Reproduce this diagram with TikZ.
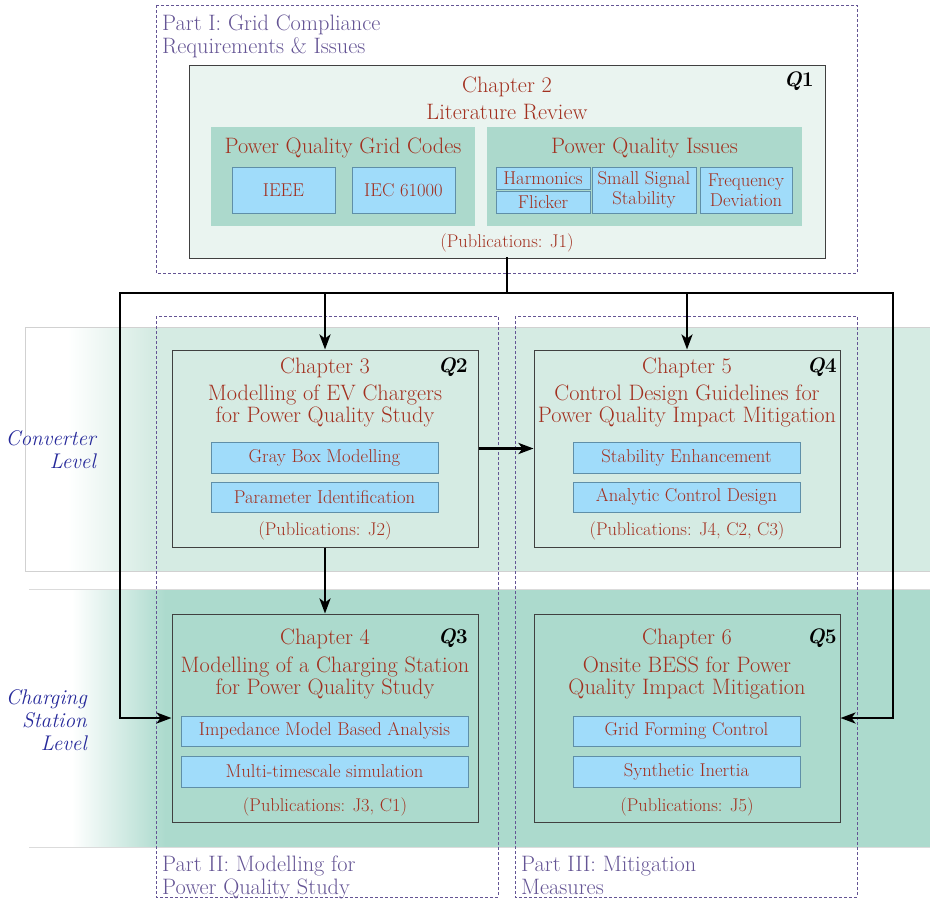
\documentclass[tikz,border=0pt]{standalone}
\usepackage{fontspec}
\setmainfont{Latin Modern Roman}
\usetikzlibrary{arrows.meta}
\definecolor{chapc}{HTML}{A2301F}
\definecolor{partc}{HTML}{645494}
\definecolor{levc}{HTML}{26299A}
\definecolor{grpc}{HTML}{ACD9CC}
\definecolor{ovfill}{HTML}{EAF4F0}
\definecolor{convc}{HTML}{D5EBE3}
\definecolor{chargc}{HTML}{ACDACD}
\definecolor{itemc}{HTML}{A0DCFA}
\definecolor{itemb}{HTML}{5F8FA8}
\newcommand{\qtag}[1]{\textbf{\textit{Q}}\textbf{#1}}
\tikzset{
  partbox/.style={draw=partc, dash pattern=on 3pt off 2pt, line width=0.8pt},
  partlbl/.style={text=partc, font=\fontsize{22.3}{23}\selectfont, align=left, anchor=north west, inner sep=0pt},
  chapbox/.style={draw=black!75, line width=1pt, inner sep=0pt},
  grpbox/.style={fill=grpc, draw=none, inner sep=0pt},
  itembox/.style={fill=itemc, draw=itemb, line width=0.8pt, text=chapc, align=center, inner sep=0pt,
    font=\fontsize{18.6}{19.5}\selectfont},
  ttl/.style={text=chapc, align=center, inner sep=0pt, font=\fontsize{22.3}{22}\selectfont},
  pub/.style={text=chapc, inner sep=0pt, font=\fontsize{18.4}{19}\selectfont},
  qlbl/.style={inner sep=0pt, anchor=east, font=\fontsize{21}{24}\selectfont},
  levlbl/.style={text=levc, align=right, anchor=east, inner sep=0pt, font=\fontsize{21.2}{23}\selectfont\itshape},
  flowline/.style={line width=2.8pt, line cap=rect},
  flow/.style={line width=2.8pt, -{Stealth[length=15pt,width=11pt,inset=4pt]}}
}
\begin{document}
\begin{tikzpicture}[x=1pt,y=-1pt]
\useasboundingbox (0,0) rectangle (930,899);

% level bands
\shade[left color=white, right color=convc] (68,327) rectangle (150,571);
\fill[convc] (149.5,327) rectangle (930,571);
\draw[black!18, line width=0.8pt] (25,327) rectangle (931,571);
\shade[left color=white, right color=chargc] (72,589) rectangle (165,847);
\fill[chargc] (164.5,589) rectangle (930,847);
\draw[black!14, line width=0.8pt] (29,589) -- (931,589) (29,847) -- (931,847);

\node[levlbl] (lvconv) at (96,450) {Converter\\Level};
\node[levlbl] (lvchg) at (87,720) {Charging\\Station\\Level};

% parts
\draw[partbox] (156,5) rectangle (857,273);
\draw[partbox] (156,316) rectangle (498,897);
\draw[partbox] (515,316) rectangle (857,897);
\node[partlbl] (p1) at (162,15) {Part I: Grid Compliance\\Requirements \& Issues};
\node[partlbl] (p2) at (162,856) {Part II: Modelling for\\Power Quality Study};
\node[partlbl] (p3) at (521,856) {Part III: Mitigation\\Measures};

% chapter 2
\node[chapbox, fill=ovfill, minimum width=636, minimum height=192] (ch2) at (507,162) {};
\node[ttl] (ch2a) at (507,87) {Chapter 2};
\node[ttl] (ch2b) at (507,112) {Literature Review};
\node[qlbl] (q1) at (814,81) {\qtag{1}};
\node[grpbox, minimum width=264, minimum height=99] (gcodes) at (343,176.5) {};
\node[ttl] (gcodest) at (343,148) {Power Quality Grid Codes};
\node[itembox, minimum width=103, minimum height=46] (ieee) at (283.5,190) {IEEE};
\node[itembox, minimum width=103, minimum height=46] (iec) at (403.5,190) {IEC 61000};
\node[grpbox, minimum width=315, minimum height=99] (issues) at (644.5,176.5) {};
\node[ttl] (issuest) at (644.5,148) {Power Quality Issues};
\node[itembox, minimum width=94, minimum height=22] (harm) at (543,178) {Harmonics};
\node[itembox, minimum width=94, minimum height=22] (flick) at (543,202) {Flicker};
\node[itembox, minimum width=104, minimum height=46] (sss) at (644,190) {Small Signal\\Stability};
\node[itembox, minimum width=92, minimum height=46] (fdev) at (746,190) {Frequency\\Deviation};
\node[pub] (pub2) at (507,243) {(Publications: J1)};

% chapter 3
\node[chapbox, fill=convc, minimum width=306, minimum height=197] (ch3) at (325,448.5) {};
\node[ttl] (ch3a) at (325,368) {Chapter 3};
\node[ttl] (ch3b) at (325,405.5) {Modelling of EV Chargers\\for Power Quality Study};
\node[qlbl] (q2) at (468,367) {\qtag{2}};
\node[itembox, minimum width=227, minimum height=31] (gbm) at (324.5,457.5) {Gray Box Modelling};
\node[itembox, minimum width=227, minimum height=30] (pid) at (324.5,497) {Parameter Identification};
\node[pub] (pub3) at (325,531) {(Publications: J2)};

% chapter 5
\node[chapbox, fill=convc, minimum width=306, minimum height=197] (ch5) at (687,448.5) {};
\node[ttl] (ch5a) at (687,368) {Chapter 5};
\node[ttl] (ch5b) at (687,405.5) {Control Design Guidelines for\\Power Quality Impact Mitigation};
\node[qlbl] (q4) at (837,367) {\qtag{4}};
\node[itembox, minimum width=227, minimum height=31] (stab) at (686.5,457.5) {Stability Enhancement};
\node[itembox, minimum width=227, minimum height=30] (acd) at (686.5,497) {Analytic Control Design};
\node[pub] (pub5) at (687,531) {(Publications: J4, C2, C3)};

% chapter 4
\node[chapbox, fill=chargc, minimum width=306, minimum height=208] (ch4) at (325,718) {};
\node[ttl] (ch4a) at (325,639) {Chapter 4};
\node[ttl] (ch4b) at (325,677.5) {Modelling of a Charging Station\\for Power Quality Study};
\node[qlbl] (q3) at (468,638) {\qtag{3}};
\node[itembox, minimum width=287, minimum height=30] (ima) at (324.5,731) {Impedance Model Based Analysis};
\node[itembox, minimum width=287, minimum height=31] (mts) at (324.5,771.5) {Multi-timescale simulation};
\node[pub] (pub4) at (325,807) {(Publications: J3, C1)};

% chapter 6
\node[chapbox, fill=chargc, minimum width=306, minimum height=208] (ch6) at (687,718) {};
\node[ttl] (ch6a) at (687,639) {Chapter 6};
\node[ttl] (ch6b) at (687,677.5) {Onsite BESS for Power\\Quality Impact Mitigation};
\node[qlbl] (q5) at (837,638) {\qtag{5}};
\node[itembox, minimum width=227, minimum height=30] (gfc) at (686.5,731) {Grid Forming Control};
\node[itembox, minimum width=227, minimum height=31] (sin) at (686.5,771.5) {Synthetic Inertia};
\node[pub] (pub6) at (687,807) {(Publications: J5)};

% connectors
\coordinate (j) at (507,293);
\coordinate (jl) at (120,293);
\coordinate (jr) at (893,293);
\draw[flowline] (ch2.south) -- (j);
\draw[flowline] (jl) -- (jr);
\draw[flow] (ch3.north |- j) -- (ch3.north);
\draw[flow] (ch5.north |- j) -- (ch5.north);
\draw[flow] (jl) |- (ch4.west);
\draw[flow] (jr) |- (ch6.east);
\draw[flow] (ch3.east) -- (ch5.west);
\draw[flow] (ch3.south) -- (ch4.north);
\end{tikzpicture}
\end{document}
